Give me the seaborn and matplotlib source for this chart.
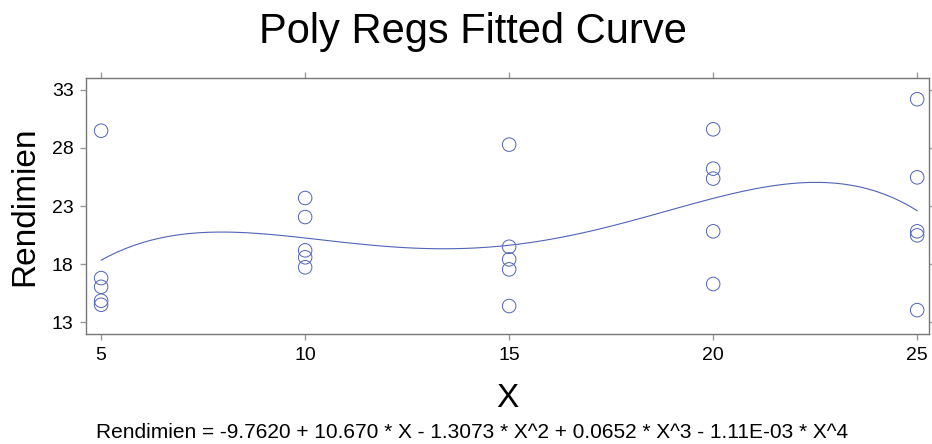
import numpy as np
import pandas as pd
import matplotlib
matplotlib.use("Agg")
import matplotlib.pyplot as plt
import seaborn as sns

# values
x_vals = [5, 5, 5, 5, 5,
          10, 10, 10, 10, 10,
          15, 15, 15, 15, 15,
          20, 20, 20, 20, 20,
          25, 25, 25, 25, 25]
rendimien = [29.49, 16.79, 16.04, 14.84, 14.49,
             23.69, 22.05, 19.18, 18.58, 17.72,
             28.29, 19.49, 18.40, 17.54, 14.38,
             29.61, 26.22, 25.36, 20.82, 16.28,
             32.20, 25.47, 20.82, 20.47, 14.03]
x_ticks = [5, 10, 15, 20, 25]
y_ticks = [13, 18, 23, 28, 33]
equation = "Rendimien = -9.7620 + 10.670 * X - 1.3073 * X^2 + 0.0652 * X^3 - 1.11E-03 * X^4"

df = pd.DataFrame({"X": x_vals, "Rendimien": rendimien})

sns.set_style("ticks")
plt.rcParams["font.family"] = ["Liberation Sans", "DejaVu Sans"]
plt.rcParams["text.color"] = "black"
plt.rcParams["axes.labelcolor"] = "black"
plt.rcParams["xtick.labelcolor"] = "black"
plt.rcParams["ytick.labelcolor"] = "black"

blue = "#5063b8"
fig = plt.figure(figsize=(9.32, 4.44), dpi=100)
ax = fig.add_axes([0.0923, 0.2477, 0.9045, 0.5766])

sns.regplot(data=df, x="X", y="Rendimien", order=4, ci=None, ax=ax,
            color=blue,
            scatter_kws=dict(s=95, facecolors="none", edgecolors=blue,
                             linewidths=0.7, alpha=1),
            line_kws=dict(lw=0.8, color=blue))

ax.set_xlim(4.63, 25.29)
ax.set_ylim(11.97, 34.03)
ax.set_xticks(x_ticks)
ax.set_yticks(y_ticks)
ax.tick_params(axis="both", which="both", direction="out", length=4,
               width=1, color="#999999", labelsize=14,
               top=True, right=True, pad=5)
for side in ["top", "right", "bottom", "left"]:
    ax.spines[side].set_color("#777777")
    ax.spines[side].set_linewidth(1)

ax.set_xlabel("X", fontsize=24, labelpad=14)
ax.set_ylabel("Rendimien", fontsize=24, labelpad=8)
fig.text(0.507, 0.928, "Poly Regs Fitted Curve", fontsize=30,
         ha="center", va="center")
fig.text(0.507, 0.027, equation, fontsize=15, ha="center", va="center")

fig.savefig("out.png", dpi=100)
